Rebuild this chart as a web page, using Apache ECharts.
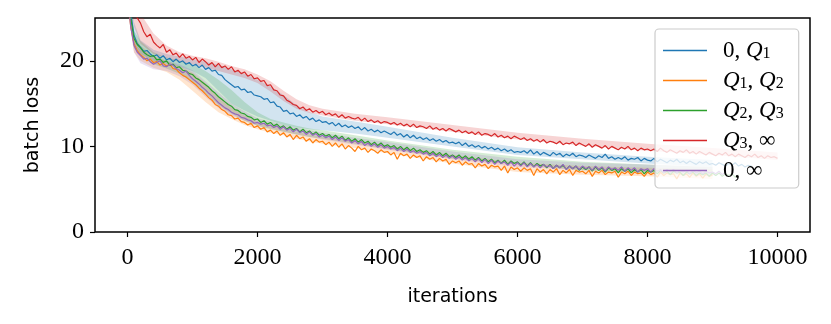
<!DOCTYPE html>
<html>
<head>
<meta charset="utf-8">
<script src="https://cdn.jsdelivr.net/npm/echarts@6/dist/echarts.min.js"></script>
<style>
html,body{margin:0;padding:0;background:#fff;}
#chart{width:831px;height:324px;}
</style>
</head>
<body>
<div id="chart"></div>
<script>
// iterations are sampled every STEP steps, starting at 0
const STEP = 50;
const xTicks = [0, 2000, 4000, 6000, 8000, 10000];
const yTicks = [0, 10, 20];
const seriesNames = ['0, Q1', 'Q1, Q2', 'Q2, Q3', 'Q3, \u221e', '0, \u221e'];

const lossQ0Q1 = [30.0, 25.5, 23.0, 22.0, 21.6, 21.1, 21.2, 20.8, 20.5, 20.7, 20.3, 20.6, 20.1, 20.3, 19.9, 20.2, 19.8, 20.0, 19.6, 19.8, 19.4,
  19.6, 19.2, 19.5, 19.0, 19.2, 18.8, 18.9, 18.4, 18.3, 17.8, 17.5, 17.2, 16.9, 17.0, 16.6, 16.7, 16.3, 16.4, 16.0, 15.9,
  15.8, 15.5, 15.6, 15.1, 15.2, 14.7, 14.6, 14.1, 14.2, 13.8, 13.9, 13.5, 13.7, 13.3, 13.5, 13.1, 13.3, 12.9, 13.1, 12.8,
  12.9, 12.6, 12.8, 12.4, 12.7, 12.3, 12.5, 12.2, 12.4, 12.1, 12.3, 11.9, 12.2, 11.8, 12.0, 11.7, 11.9, 11.6, 11.8, 11.6,
  11.4, 11.7, 11.3, 11.5, 11.1, 11.4, 11.0, 11.3, 10.9, 11.1, 10.8, 11.0, 10.7, 10.9, 10.6, 10.8, 10.5, 10.7, 10.4, 10.5,
  10.3, 10.5, 10.1, 10.4, 10.0, 10.2, 9.9, 10.1, 9.8, 10.0, 9.7, 9.9, 9.6, 9.8, 9.5, 9.7, 9.4, 9.6, 9.3, 9.4,
  9.3, 9.5, 9.2, 9.6, 9.1, 9.4, 9.0, 9.3, 9.1, 8.9, 9.3, 9.0, 9.2, 8.8, 9.1, 8.9, 9.2, 8.8, 9.0, 8.9,
  8.7, 9.0, 8.8, 8.6, 8.9, 8.7, 9.1, 8.6, 8.8, 8.5, 8.7, 8.5, 8.8, 8.4, 8.6, 8.5, 8.7, 8.3, 8.6, 8.4,
  8.3, 8.6, 8.2, 8.5, 8.3, 8.1, 8.4, 8.2, 8.5, 8.1, 8.3, 8.0, 8.3, 8.1, 7.9, 8.2, 8.0, 8.2, 7.9, 8.0,
  7.8, 8.1, 7.9, 7.7, 8.0, 7.8, 8.1, 7.7, 7.9, 7.6, 7.8, 7.7];
const lossQ1Q2 = [28.0, 24.0, 22.0, 21.2, 20.7, 20.4, 20.0, 20.2, 19.8, 19.9, 19.5, 19.7, 19.4, 19.6, 19.1, 19.0, 18.6, 18.3, 18.1, 17.8, 17.5,
  17.2, 16.8, 16.5, 16.1, 15.7, 15.4, 14.9, 14.7, 14.3, 14.1, 13.7, 13.6, 13.2, 13.3, 12.9, 12.8, 12.5, 12.7, 12.2, 12.4,
  12.0, 12.2, 11.7, 11.9, 11.5, 11.8, 11.3, 11.6, 11.1, 11.4, 10.8, 11.3, 10.9, 11.1, 10.6, 10.9, 10.4, 10.8, 10.5, 10.6,
  10.2, 10.5, 10.0, 10.4, 9.9, 10.3, 9.7, 10.1, 9.8, 9.4, 10.0, 9.6, 9.8, 9.3, 9.7, 9.5, 9.2, 9.6, 9.3, 9.4,
  9.0, 9.3, 8.5, 9.2, 8.9, 9.1, 8.6, 9.0, 8.7, 8.9, 8.3, 8.8, 8.5, 8.7, 8.2, 8.6, 8.3, 8.5, 7.9, 8.3,
  8.1, 8.3, 7.8, 8.2, 7.9, 8.0, 7.5, 8.0, 7.7, 7.9, 7.4, 7.8, 7.6, 7.7, 7.2, 7.7, 6.9, 7.6, 7.3, 7.5,
  7.1, 7.5, 7.2, 7.4, 6.6, 7.4, 7.0, 7.3, 6.8, 7.3, 7.0, 7.4, 6.7, 7.2, 6.9, 7.3, 6.6, 7.2, 7.0, 7.1,
  6.8, 7.2, 6.5, 7.1, 6.9, 7.2, 6.7, 7.0, 6.9, 7.1, 6.4, 7.0, 6.8, 7.1, 6.6, 7.0, 6.8, 6.9, 6.5, 7.0,
  6.7, 6.9, 6.4, 7.0, 6.6, 6.9, 6.7, 6.8, 6.2, 6.9, 6.6, 6.8, 6.4, 6.9, 6.5, 6.8, 6.3, 6.8, 6.5, 6.7];
const lossQ2Q3 = [29.0, 25.0, 22.6, 21.9, 21.5, 21.0, 20.7, 20.5, 20.6, 20.1, 20.2, 19.8, 20.0, 19.5, 19.6, 19.2, 19.3, 18.9, 18.8, 18.5, 18.4,
  18.0, 17.8, 17.5, 17.2, 16.9, 16.5, 16.2, 15.8, 15.5, 15.2, 14.9, 14.7, 14.3, 14.2, 13.9, 13.8, 13.5, 13.4, 13.1, 13.2,
  12.8, 13.0, 12.6, 12.8, 12.4, 12.6, 12.2, 12.4, 12.0, 12.3, 11.9, 12.1, 11.7, 12.0, 11.6, 11.8, 11.4, 11.7, 11.3, 11.5,
  11.2, 11.4, 11.0, 11.3, 10.9, 11.2, 10.7, 11.0, 10.6, 10.9, 10.5, 10.8, 10.4, 10.6, 10.2, 10.5, 10.1, 10.4, 10.0, 10.2,
  9.9, 10.1, 9.7, 10.0, 9.6, 9.9, 9.5, 9.8, 9.4, 9.6, 9.3, 9.5, 9.1, 9.4, 9.0, 9.3, 8.9, 9.2, 8.8, 9.0,
  8.7, 9.0, 8.6, 8.9, 8.5, 8.8, 8.4, 8.7, 8.3, 8.6, 8.2, 8.5, 8.1, 8.4, 8.0, 8.4, 7.9, 8.3, 8.0, 8.2,
  7.8, 8.2, 7.7, 8.1, 7.6, 8.0, 7.7, 7.9, 7.5, 7.9, 7.4, 7.8, 7.5, 7.8, 7.3, 7.7, 7.4, 7.7, 7.2, 7.6,
  7.3, 7.6, 7.1, 7.6, 7.2, 7.5, 7.0, 7.5, 7.2, 7.4, 6.9, 7.4, 7.1, 7.4, 6.9, 7.3, 7.0, 7.3, 6.8, 7.2,
  7.0, 7.2, 6.8, 7.2, 6.9, 7.1, 6.7, 7.1, 6.9, 7.0, 6.6, 7.0, 6.8, 7.0, 6.6, 6.9, 6.7, 6.9, 6.5, 6.9,
  6.6, 6.9, 6.5, 6.8, 6.6, 6.8, 6.4, 6.7];
const lossQ3Inf = [31.0, 28.0, 26.2, 25.0, 24.4, 23.4, 22.8, 23.1, 22.2, 21.8, 21.5, 21.9, 21.0, 21.3, 20.7, 20.9, 20.4, 20.8, 20.3, 20.5, 20.1,
  20.4, 19.8, 20.2, 19.9, 19.5, 19.8, 19.3, 19.7, 19.2, 19.4, 19.0, 19.3, 18.7, 18.9, 18.5, 18.7, 18.2, 18.4, 17.9, 18.0,
  17.6, 17.7, 17.1, 17.2, 16.6, 16.5, 16.0, 15.9, 15.4, 15.2, 14.9, 14.8, 14.4, 14.6, 14.2, 14.4, 14.0, 14.2, 13.9, 14.1,
  13.7, 13.9, 13.6, 13.8, 13.4, 13.7, 13.3, 13.5, 13.3, 13.2, 13.4, 13.0, 13.3, 12.9, 13.1, 12.8, 13.0, 12.7, 12.9, 12.8,
  12.6, 12.8, 12.5, 12.7, 12.4, 12.6, 12.3, 12.6, 12.2, 12.4, 12.3, 12.1, 12.4, 12.0, 12.2, 11.9, 12.1, 11.8, 12.1, 11.9,
  11.7, 11.9, 11.6, 11.8, 11.5, 11.7, 11.4, 11.7, 11.3, 11.5, 11.4, 11.2, 11.5, 11.1, 11.3, 11.0, 11.2, 10.9, 11.2, 11.0,
  10.8, 11.0, 10.7, 10.9, 10.6, 10.8, 10.5, 10.8, 10.4, 10.6, 10.5, 10.3, 10.6, 10.2, 10.4, 10.3, 10.5, 10.1, 10.4, 10.2,
  10.0, 10.3, 9.9, 10.2, 10.0, 9.8, 10.1, 9.7, 10.0, 9.8, 9.6, 9.9, 9.7, 10.0, 9.6, 9.8, 9.5, 9.8, 9.6, 9.7,
  9.5, 9.7, 9.4, 9.8, 9.5, 9.3, 9.6, 9.4, 9.2, 9.5, 9.3, 9.6, 9.2, 9.4, 9.1, 9.4, 9.2, 9.0, 9.3, 9.1,
  8.9, 9.2, 9.0, 9.3, 8.9, 9.1, 8.8, 9.1, 8.9, 8.7, 9.0, 8.8, 9.1, 8.7, 8.9, 8.6, 8.9, 8.7, 8.8, 8.6];
const loss0Inf = [28.0, 24.0, 21.8, 21.0, 20.6, 20.2, 20.3, 19.9, 19.6, 19.8, 20.0, 19.4, 19.3, 19.6, 19.5, 19.1, 18.9, 18.6, 18.8, 18.3, 17.9,
  17.6, 17.3, 16.9, 16.6, 16.2, 15.9, 15.5, 15.1, 14.8, 14.5, 14.3, 14.0, 13.8, 13.7, 13.4, 13.3, 13.1, 13.0, 12.7, 12.8,
  12.6, 12.7, 12.4, 12.5, 12.2, 12.4, 12.0, 12.3, 11.9, 12.1, 11.7, 12.0, 11.6, 11.8, 11.4, 11.7, 11.3, 11.5, 11.1, 11.3,
  11.0, 11.2, 10.8, 11.1, 10.7, 11.0, 10.6, 10.8, 10.4, 10.7, 10.3, 10.6, 10.1, 10.4, 10.0, 10.3, 9.9, 10.2, 9.8, 10.0,
  9.7, 9.9, 9.5, 9.8, 9.4, 9.7, 9.3, 9.5, 9.2, 9.4, 9.1, 9.3, 8.9, 9.2, 8.8, 9.1, 8.7, 9.0, 8.6, 8.9,
  8.5, 8.8, 8.4, 8.7, 8.3, 8.6, 8.2, 8.6, 8.1, 8.5, 8.0, 8.4, 7.9, 8.3, 8.0, 8.2, 7.8, 8.2, 7.7, 8.1,
  7.7, 8.1, 7.6, 8.0, 7.6, 7.9, 7.5, 7.9, 7.6, 7.8, 7.4, 7.8, 7.5, 7.9, 7.3, 7.7, 7.4, 7.7, 7.3, 7.7,
  7.4, 7.6, 7.2, 7.7, 7.3, 7.6, 7.1, 7.6, 7.3, 7.5, 7.2, 7.6, 7.1, 7.5, 7.2, 7.5, 7.0, 7.4, 7.2, 7.4,
  7.0, 7.4, 7.1, 7.3, 6.9, 7.3, 7.0, 7.3, 6.9, 7.2, 7.0, 7.2, 6.8, 7.2, 6.9, 7.1, 6.8, 7.1, 6.9, 7.0,
  6.8, 7.1, 6.7, 7.0];

// spread bands (lower / upper), sampled at bandX
const bandX = [0, 100, 200, 400, 600, 800, 1000, 1200, 1400, 1600, 1800, 2000, 2200, 2400, 2600, 2800, 3000, 3500, 4000, 5000, 6000, 7000, 8000, 9000, 10000];
const lowQ0Q1  = [28, 22.0, 20.8, 20.0, 19.7, 19.3, 18.8, 18.0, 16.5, 15.0, 14.2, 13.5, 13.0, 12.5, 12.2, 12.0, 11.9, 11.5, 11.0, 10.0, 9.0, 8.5, 8.0, 7.6];
const highQ0Q1 = [32, 24.5, 22.4, 21.3, 20.8, 20.5, 20.2, 19.9, 19.5, 19.0, 18.5, 17.8, 17.0, 16.0, 14.8, 14.0, 13.5, 12.9, 12.3, 11.0, 9.9, 9.3, 8.8, 8.4];
const lowQ1Q2  = [26, 21.0, 20.0, 19.2, 18.7, 17.8, 16.5, 15.2, 14.0, 13.2, 12.5, 12.0, 11.6, 11.3, 10.9, 10.6, 10.3, 9.8, 9.2, 8.0, 7.0, 6.7, 6.5, 6.2];
const highQ1Q2 = [30, 23.0, 21.8, 20.6, 20.0, 19.4, 18.6, 17.4, 15.8, 14.6, 13.6, 12.9, 12.5, 12.1, 11.7, 11.4, 11.1, 10.6, 10.1, 9.0, 8.1, 7.7, 7.5, 7.3];
const lowQ2Q3  = [27, 21.5, 20.5, 19.6, 19.1, 18.5, 17.5, 16.2, 14.8, 13.8, 13.0, 12.4, 12.0, 11.7, 11.4, 11.1, 10.9, 10.3, 9.7, 8.6, 7.9, 7.2, 6.9, 6.5];
const highQ2Q3 = [31, 23.5, 22.3, 21.0, 20.4, 20.0, 19.6, 18.8, 17.8, 16.6, 15.2, 14.0, 13.2, 12.8, 12.4, 12.1, 11.9, 11.3, 10.7, 9.6, 8.8, 8.2, 7.9, 7.6];
const lowQ3Inf  = [30, 24.0, 22.0, 20.8, 20.3, 19.9, 19.6, 19.2, 18.8, 18.4, 18.0, 17.4, 16.4, 15.3, 14.4, 13.9, 13.6, 13.0, 12.6, 11.7, 10.8, 10.1, 9.5, 9.0, 8.4];
const highQ3Inf = [34, 28.0, 25.5, 23.2, 21.8, 21.0, 20.6, 20.3, 19.9, 19.4, 19.0, 18.4, 17.6, 16.5, 15.5, 14.8, 14.4, 13.8, 13.4, 12.5, 11.6, 10.9, 10.3, 9.8, 9.3];
const low0Inf  = [26, 21.0, 19.7, 19.0, 18.8, 18.2, 17.2, 15.8, 14.5, 13.6, 13.0, 12.4, 12.1, 11.7, 11.4, 11.1, 10.8, 10.2, 9.6, 8.5, 7.6, 7.2, 7.0, 6.7];
const high0Inf = [30, 23.0, 21.5, 20.4, 20.0, 19.6, 18.9, 17.6, 16.3, 15.0, 14.1, 13.3, 12.9, 12.5, 12.2, 11.9, 11.6, 11.0, 10.5, 9.4, 8.5, 8.1, 7.9, 7.6];

const colors = ['#1f77b4', '#ff7f0e', '#2ca02c', '#d62728', '#9467bd'];
const bandColors = ['rgba(31,119,180,0.2)', 'rgba(255,127,14,0.2)', 'rgba(44,160,44,0.2)', 'rgba(214,39,40,0.2)', 'rgba(148,103,189,0.2)'];
const lines = [lossQ0Q1, lossQ1Q2, lossQ2Q3, lossQ3Inf, loss0Inf];
const lows = [lowQ0Q1, lowQ1Q2, lowQ2Q3, lowQ3Inf, low0Inf];
const highs = [highQ0Q1, highQ1Q2, highQ2Q3, highQ3Inf, high0Inf];

const series = [];
lows.forEach((lo, k) => {
  const hi = highs[k];
  const data = lo.map((v, i) => [bandX[i], v, hi[i]]);
  series.push({
    type: 'custom', name: 'band_' + k, silent: true, clip: true, z: 1,
    encode: { x: 0, y: [1, 2] },
    data: data,
    renderItem: function (params, api) {
      if (params.dataIndex !== 0) return null;
      const top = [], bot = [];
      for (let i = 0; i < data.length; i++) {
        top.push(api.coord([data[i][0], data[i][2]]));
        bot.push(api.coord([data[i][0], data[i][1]]));
      }
      const cs = params.coordSys;
      return {
        type: 'polygon',
        shape: { points: top.concat(bot.reverse()) },
        style: { fill: bandColors[k], stroke: null },
        clipPath: { type: 'rect', shape: { x: cs.x, y: cs.y, width: cs.width, height: cs.height } }
      };
    }
  });
});
lines.forEach((arr, k) => {
  series.push({
    type: 'line', name: seriesNames[k], symbol: 'none', color: colors[k],
    lineStyle: { width: 1.2, color: colors[k] },
    data: arr.map((v, i) => [i * STEP, v]), z: 2
  });
});

const richNames = {
  '0, Q1': '{r|0, }{q|Q}{s|1}',
  'Q1, Q2': '{q|Q}{s|1}{r|, }{q|Q}{s|2}',
  'Q2, Q3': '{q|Q}{s|2}{r|, }{q|Q}{s|3}',
  'Q3, \u221e': '{q|Q}{s|3}{r|, \u221e}',
  '0, \u221e': '{r|0, \u221e}'
};

const chart = echarts.init(document.getElementById('chart'), null, { renderer: 'canvas' });
chart.setOption({
  animation: false,
  backgroundColor: '#fff',
  grid: { left: 95, right: 21, top: 18, bottom: 92, show: true, borderColor: '#000', borderWidth: 1.5, backgroundColor: 'transparent' },
  xAxis: {
    type: 'value', min: -500, max: 10500,
    name: 'iterations', nameLocation: 'middle', nameGap: 56,
    nameTextStyle: { fontFamily: 'DejaVu Sans', fontSize: 19, color: '#000' },
    axisLine: { show: false, onZero: false },
    splitLine: { show: false },
    axisTick: { show: true, inside: false, length: 5, lineStyle: { color: '#000', width: 1.2 }, customValues: xTicks },
    axisLabel: { customValues: xTicks, margin: 14, fontFamily: 'Liberation Serif', fontSize: 24, color: '#000', formatter: v => String(v) }
  },
  yAxis: {
    type: 'value', min: 0, max: 25, interval: 10,
    name: 'batch loss', nameLocation: 'middle', nameGap: 52,
    nameTextStyle: { fontFamily: 'DejaVu Sans', fontSize: 19, color: '#000' },
    axisLine: { show: false, onZero: false },
    splitLine: { show: false },
    axisTick: { show: true, inside: false, length: 5, lineStyle: { color: '#000', width: 1.2 }, customValues: yTicks },
    axisLabel: { customValues: yTicks, margin: 11, fontFamily: 'Liberation Serif', fontSize: 24, color: '#000', formatter: v => String(v) }
  },
  legend: {
    data: seriesNames,
    orient: 'vertical', left: 655, top: 29,
    padding: [10, 15, 6, 8],
    itemWidth: 44, itemHeight: 14, itemGap: 7,
    backgroundColor: 'rgba(255,255,255,0.8)',
    borderColor: '#cccccc', borderWidth: 1.2, borderRadius: 4,
    icon: 'path://M0,0 L44,0 L44,1.3 L0,1.3 Z',
    formatter: name => richNames[name],
    textStyle: {
      padding: [0, 0, 0, 11],
      rich: {
        r: { fontFamily: 'Liberation Serif', fontSize: 23, lineHeight: 22, color: '#000' },
        q: { fontFamily: 'Liberation Serif', fontStyle: 'italic', fontSize: 23, lineHeight: 22, color: '#000' },
        s: { fontFamily: 'Liberation Serif', fontSize: 16, lineHeight: 11, verticalAlign: 'bottom', color: '#000' }
      }
    },
    z: 10
  },
  series: series
});
</script>
</body>
</html>
